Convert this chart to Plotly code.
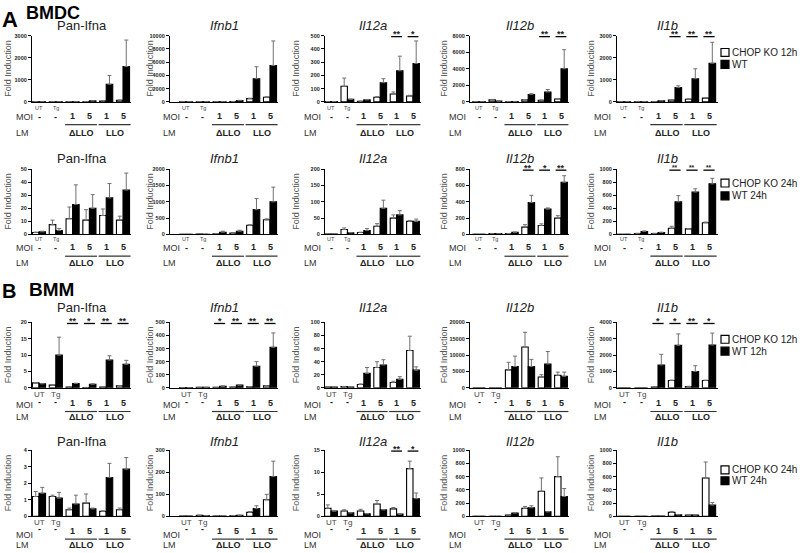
import plotly.graph_objects as go

W, H = 800, 553
FONT = "Liberation Sans, Arial, sans-serif"

# ---------------- categories / labels ----------------
groups = ["UT", "Tg", "ΔLLO MOI 1", "ΔLLO MOI 5", "LLO MOI 1", "LLO MOI 5"]
x_tick_labels = ["UT", "Tg"]
moi_labels = ["-", "-", "1", "5", "1", "5"]
lm_labels = ["ΔLLO", "LLO"]
genes = ["Pan-Ifna", "<i>Ifnb1</i>", "<i>Il12a</i>", "<i>Il12b</i>", "<i>Il1b</i>"]
legend_labels = [["CHOP KO 12h", "WT"], ["CHOP KO 24h", "WT 24h"],
                 ["CHOP KO 12h", "WT 12h"], ["CHOP KO 24h", "WT 24h"]]

# ---------------- A: BMDC 12h ----------------
A12_PanIfna_KO = [2, 5, 3, 10, 40, 70]
A12_PanIfna_KO_err = [0, 0, 0, 3, 10, 15]
A12_PanIfna_WT = [2, 5, 5, 45, 800, 1600]
A12_PanIfna_WT_err = [0, 0, 0, 10, 400, 1200]

A12_Ifnb1_KO = [5, 20, 10, 50, 500, 700]
A12_Ifnb1_KO_err = [0, 10, 0, 20, 60, 80]
A12_Ifnb1_WT = [5, 20, 30, 200, 3500, 5500]
A12_Ifnb1_WT_err = [0, 0, 10, 40, 1800, 3700]

A12_Il12a_KO = [2, 118, 5, 35, 60, 45]
A12_Il12a_KO_err = [0, 62, 0, 5, 15, 5]
A12_Il12a_WT = [2, 20, 15, 145, 235, 290]
A12_Il12a_WT_err = [0, 0, 3, 30, 110, 170]

A12_Il12b_KO = [10, 250, 20, 250, 200, 350]
A12_Il12b_KO_err = [0, 50, 0, 40, 30, 50]
A12_Il12b_WT = [10, 100, 50, 900, 1200, 4000]
A12_Il12b_WT_err = [0, 0, 10, 100, 300, 2300]

A12_Il1b_KO = [2, 5, 10, 80, 120, 170]
A12_Il1b_KO_err = [0, 0, 0, 10, 20, 20]
A12_Il1b_WT = [2, 10, 50, 650, 1050, 1750]
A12_Il1b_WT_err = [0, 0, 5, 80, 450, 950]

# ---------------- A: BMDC 24h ----------------
A24_PanIfna_KO = [1.5, 7.5, 12, 11, 14.5, 11]
A24_PanIfna_KO_err = [0.3, 3.5, 9, 8, 5, 3]
A24_PanIfna_WT = [2, 3, 23, 20, 28, 34]
A24_PanIfna_WT_err = [0.5, 1.5, 15, 10.5, 11, 13]

A24_Ifnb1_KO = [3, 10, 20, 40, 280, 450]
A24_Ifnb1_KO_err = [0, 0, 5, 10, 20, 30]
A24_Ifnb1_WT = [3, 5, 70, 100, 760, 1000]
A24_Ifnb1_WT_err = [0, 0, 30, 30, 340, 450]

A24_Il12a_KO = [1, 15, 6, 25, 50, 40]
A24_Il12a_KO_err = [0, 5, 1, 8, 10, 3]
A24_Il12a_WT = [1, 5, 12, 80, 60, 40]
A24_Il12a_WT_err = [0, 1, 6, 25, 13, 7]

A24_Il12b_KO = [3, 10, 10, 90, 110, 200]
A24_Il12b_KO_err = [0, 0, 2, 30, 20, 30]
A24_Il12b_WT = [3, 10, 25, 390, 310, 640]
A24_Il12b_WT_err = [0, 0, 5, 90, 15, 80]

A24_Il1b_KO = [2, 15, 15, 95, 85, 180]
A24_Il1b_KO_err = [0, 3, 3, 30, 5, 10]
A24_Il1b_WT = [3, 45, 30, 500, 650, 775]
A24_Il1b_WT_err = [0, 10, 5, 95, 50, 85]

# ---------------- B: BMM 12h ----------------
B12_PanIfna_KO = [1.5, 0.8, 0.2, 0.1, 0.2, 0.6]
B12_PanIfna_KO_err = [0.1, 0.1, 0, 0, 0, 0.1]
B12_PanIfna_WT = [1.2, 10, 1.3, 1.1, 8.5, 7.2]
B12_PanIfna_WT_err = [0.1, 5.5, 0.1, 0.1, 1.3, 1.2]

B12_Ifnb1_KO = [2, 3, 3, 5, 8, 15]
B12_Ifnb1_KO_err = [0, 0, 0, 0, 0, 0]
B12_Ifnb1_WT = [2, 3, 12, 20, 165, 310]
B12_Ifnb1_WT_err = [0, 0, 2, 3, 35, 110]

B12_Il12a_KO = [1, 2, 5, 31, 8, 57]
B12_Il12a_KO_err = [0, 0, 1, 9, 2, 22]
B12_Il12a_WT = [1, 1, 22, 35, 13, 27]
B12_Il12a_WT_err = [0, 0, 9, 8, 4, 5]

B12_Il12b_KO = [0, 0, 5500, 12500, 3300, 3800]
B12_Il12b_KO_err = [0, 0, 2300, 4500, 700, 1000]
B12_Il12b_WT = [0, 0, 6500, 6500, 7300, 3500]
B12_Il12b_WT_err = [0, 0, 3200, 2200, 3800, 1300]

B12_Il1b_KO = [0, 0, 50, 450, 80, 450]
B12_Il1b_KO_err = [0, 0, 0, 20, 10, 20]
B12_Il1b_WT = [0, 0, 1400, 2600, 1000, 2620]
B12_Il1b_WT_err = [0, 0, 650, 700, 350, 730]

# ---------------- B: BMM 24h ----------------
B24_PanIfna_KO = [1.2, 1.2, 0.4, 0.8, 0.3, 0.4]
B24_PanIfna_KO_err = [0.3, 0.08, 0.1, 0.55, 0.03, 0.1]
B24_PanIfna_WT = [1.4, 1.1, 0.75, 0.45, 2.35, 2.85]
B24_PanIfna_WT_err = [0.35, 0.35, 0.53, 0.05, 0.85, 0.7]

B24_Ifnb1_KO = [1, 5, 2, 3, 18, 75]
B24_Ifnb1_KO_err = [0, 0, 0, 0, 4, 25]
B24_Ifnb1_WT = [1, 3, 2, 5, 35, 180]
B24_Ifnb1_WT_err = [0, 0, 0, 0, 13, 70]

B24_Il12a_KO = [1.8, 1.2, 1.2, 2.8, 1.7, 10.8]
B24_Il12a_KO_err = [0.8, 0.3, 0.4, 0.8, 0.3, 1.7]
B24_Il12a_WT = [1.2, 0.8, 0.6, 1.5, 0.5, 4.0]
B24_Il12a_WT_err = [0, 0, 0, 0, 0, 1.3]

B24_Il12b_KO = [2, 2, 20, 120, 380, 600]
B24_Il12b_KO_err = [0, 0, 0, 30, 200, 300]
B24_Il12b_WT = [2, 2, 50, 130, 70, 300]
B24_Il12b_WT_err = [0, 0, 5, 30, 0, 120]

B24_Il1b_KO = [2, 2, 5, 60, 20, 580]
B24_Il1b_KO_err = [0, 0, 0, 15, 0, 240]
B24_Il1b_WT = [2, 2, 5, 25, 20, 170]
B24_Il1b_WT_err = [0, 0, 0, 0, 0, 40]

# axis maxima and tick steps
A12_ymax = [3000, 10000, 500, 8000, 3000]
A12_dtick = [1000, 2000, 100, 2000, 1000]
A24_ymax = [50, 2000, 200, 800, 1000]
A24_dtick = [10, 500, 50, 200, 200]
B12_ymax = [20, 500, 100, 20000, 4000]
B12_dtick = [5, 100, 20, 5000, 1000]
B24_ymax = [4, 300, 15, 1000, 1000]
B24_dtick = [1, 100, 5, 200, 200]

# significance marks: (group index, label) per panel
A12_sig = [[], [], [(4, "**"), (5, "*")], [(4, "**"), (5, "**")], [(3, "**"), (4, "**"), (5, "**")]]
A24_sig = [[], [], [], [(3, "**"), (4, "*"), (5, "**")], [(3, "**"), (4, "**"), (5, "**")]]
B12_sig = [[(2, "**"), (3, "*"), (4, "**"), (5, "**")], [(2, "*"), (3, "**"), (4, "**"), (5, "**")], [], [],
           [(2, "*"), (3, "*"), (4, "**"), (5, "*")]]
B24_sig = [[], [], [(4, "**"), (5, "*")], [], []]

# ---------------- assemble tables ----------------
rows_data = [
    [(A12_PanIfna_KO, A12_PanIfna_KO_err, A12_PanIfna_WT, A12_PanIfna_WT_err),
     (A12_Ifnb1_KO, A12_Ifnb1_KO_err, A12_Ifnb1_WT, A12_Ifnb1_WT_err),
     (A12_Il12a_KO, A12_Il12a_KO_err, A12_Il12a_WT, A12_Il12a_WT_err),
     (A12_Il12b_KO, A12_Il12b_KO_err, A12_Il12b_WT, A12_Il12b_WT_err),
     (A12_Il1b_KO, A12_Il1b_KO_err, A12_Il1b_WT, A12_Il1b_WT_err)],
    [(A24_PanIfna_KO, A24_PanIfna_KO_err, A24_PanIfna_WT, A24_PanIfna_WT_err),
     (A24_Ifnb1_KO, A24_Ifnb1_KO_err, A24_Ifnb1_WT, A24_Ifnb1_WT_err),
     (A24_Il12a_KO, A24_Il12a_KO_err, A24_Il12a_WT, A24_Il12a_WT_err),
     (A24_Il12b_KO, A24_Il12b_KO_err, A24_Il12b_WT, A24_Il12b_WT_err),
     (A24_Il1b_KO, A24_Il1b_KO_err, A24_Il1b_WT, A24_Il1b_WT_err)],
    [(B12_PanIfna_KO, B12_PanIfna_KO_err, B12_PanIfna_WT, B12_PanIfna_WT_err),
     (B12_Ifnb1_KO, B12_Ifnb1_KO_err, B12_Ifnb1_WT, B12_Ifnb1_WT_err),
     (B12_Il12a_KO, B12_Il12a_KO_err, B12_Il12a_WT, B12_Il12a_WT_err),
     (B12_Il12b_KO, B12_Il12b_KO_err, B12_Il12b_WT, B12_Il12b_WT_err),
     (B12_Il1b_KO, B12_Il1b_KO_err, B12_Il1b_WT, B12_Il1b_WT_err)],
    [(B24_PanIfna_KO, B24_PanIfna_KO_err, B24_PanIfna_WT, B24_PanIfna_WT_err),
     (B24_Ifnb1_KO, B24_Ifnb1_KO_err, B24_Ifnb1_WT, B24_Ifnb1_WT_err),
     (B24_Il12a_KO, B24_Il12a_KO_err, B24_Il12a_WT, B24_Il12a_WT_err),
     (B24_Il12b_KO, B24_Il12b_KO_err, B24_Il12b_WT, B24_Il12b_WT_err),
     (B24_Il1b_KO, B24_Il1b_KO_err, B24_Il1b_WT, B24_Il1b_WT_err)],
]
rows_ymax = [A12_ymax, A24_ymax, B12_ymax, B24_ymax]
rows_dtick = [A12_dtick, A24_dtick, B12_dtick, B24_dtick]
rows_sig = [A12_sig, A24_sig, B12_sig, B24_sig]

# ---------------- layout geometry (pixels) ----------------
row_top = [33, 168, 323, 452]
row_base = [100, 234, 389, 519]
title_y = [23, 157, 308, 443]
ut_y = [106, 239, 396, 525]
ut_size = [5.5, 5.5, 8, 8]
dash_y = [115, 248, 403, 532]
moi_y = [115, 248, 406, 538]
num_y = [114, 247, 404, 534]
line_y = [123, 256, 413, 542]
lm_y = [131, 263, 419, 548]
legend_y = [[50, 62], [182, 195], [340, 352], [472, 483]]

col_axis = [32, 170, 325, 470, 617]
col_c0 = [39, 186, 331, 479, 624]
col_pitch = [16.8, 16.8, 16.4, 16.4, 17.0]
col_moi_left = [15, 162, 303, 448, 593]
col_ytitle_x = [8, 150, 296, 444, 591]

ERR = "#707070"
TXT = "#222222"

fig = go.Figure()
layout = {}
annotations = []
shapes = []


def px(x):
    return x / W


def py(y):
    return 1 - y / H


def ann(x, y, text, size, bold=False, color=TXT, xanchor="center", yanchor="middle", angle=0):
    annotations.append(dict(xref="paper", yref="paper", x=px(x), y=py(y), text=text,
                            showarrow=False, xanchor=xanchor, yanchor=yanchor, textangle=angle,
                            borderpad=0,
                            font=dict(size=size, family=FONT, color=color,
                                      weight="bold" if bold else "normal")))


def hline(x0, x1, y, width=1.2, color="black"):
    shapes.append(dict(type="line", xref="paper", yref="paper", x0=px(x0), x1=px(x1),
                       y0=py(y), y1=py(y), line=dict(color=color, width=width)))


for r in range(4):
    for c in range(5):
        k = r * 5 + c + 1
        xa = "x" if k == 1 else f"x{k}"
        ya = "y" if k == 1 else f"y{k}"
        ko, ko_err, wt, wt_err = rows_data[r][c]
        xs = list(range(len(groups)))
        fig.add_trace(go.Bar(
            x=xs, y=ko, name=legend_labels[r][0], xaxis=xa, yaxis=ya, showlegend=False,
            offsetgroup="ko", hovertext=groups,
            marker=dict(color="white", line=dict(color="black", width=1.1)),
            error_y=dict(type="data", symmetric=False, array=ko_err, arrayminus=[0] * 6,
                         color=ERR, thickness=1, width=2)))
        fig.add_trace(go.Bar(
            x=xs, y=wt, name=legend_labels[r][1], xaxis=xa, yaxis=ya, showlegend=False,
            offsetgroup="wt", hovertext=groups,
            marker=dict(color="black", line=dict(color="black", width=1.1)),
            error_y=dict(type="data", symmetric=False, array=wt_err, arrayminus=[0] * 6,
                         color=ERR, thickness=1, width=2)))

        ax0 = col_axis[c]
        c0 = col_c0[c]
        pt = col_pitch[c]
        x1 = c0 + 5.5 * pt
        key = "" if k == 1 else str(k)
        layout["xaxis" + key] = dict(
            domain=[px(ax0), px(x1)], range=[(ax0 - c0) / pt, 5.5], anchor=ya,
            showline=True, linecolor="black", linewidth=1.2, ticks="",
            showticklabels=False, showgrid=False, zeroline=False, fixedrange=True)
        layout["yaxis" + key] = dict(
            domain=[py(row_base[r]), py(row_top[r])], range=[0, rows_ymax[r][c]],
            dtick=rows_dtick[r][c], tick0=0, anchor=xa, showline=True, linecolor="black",
            linewidth=1.2, ticks="outside", ticklen=3, tickwidth=1, tickcolor="black",
            tickformat="d", showgrid=False, zeroline=False, fixedrange=True,
            tickfont=dict(size=5.5, family=FONT, color=TXT, weight="bold"))

        def gx(i):
            return c0 + i * pt

        # title & y title
        ann((ax0 + x1) / 2, title_y[r], genes[c], 13)
        ann(col_ytitle_x[c], (row_top[r] + row_base[r]) / 2, "Fold Induction", 9,
            color="#555555", angle=-90)
        # UT / Tg labels
        for i, t in enumerate(x_tick_labels):
            ann(gx(i), ut_y[r], t, ut_size[r], color="#444444")
        # MOI row
        ann(col_moi_left[c], moi_y[r], "MOI", 9, color="#333333", xanchor="left")
        for i, t in enumerate(moi_labels):
            if t == "-":
                ann(gx(i), dash_y[r], t, 9, bold=True)
            else:
                ann(gx(i), num_y[r], t, 9, bold=True)
        # LM row
        ann(col_moi_left[c], lm_y[r], "LM", 9, color="#333333", xanchor="left")
        for j, t in enumerate(lm_labels):
            a, b = 2 + 2 * j, 3 + 2 * j
            hline(gx(a) - 0.45 * pt, gx(b) + 0.45 * pt, line_y[r], width=1.2, color="#333333")
            ann((gx(a) + gx(b)) / 2, lm_y[r], t, 9, bold=True)
        # significance
        for i, lab in rows_sig[r][c]:
            yl = row_top[r] + 1
            hline(gx(i) - 0.33 * pt, gx(i) + 0.33 * pt, yl, width=1.3)
            size = 6.5 if (r == 1 and c == 4) else 9
            ann(gx(i), yl - 2.5, lab, size, bold=True)

    # legend for the row
    for j, lab in enumerate(legend_labels[r]):
        yc = legend_y[r][j]
        shapes.append(dict(type="rect", xref="paper", yref="paper",
                           x0=px(721), x1=px(729), y0=py(yc + 4), y1=py(yc - 4),
                           fillcolor="white" if j == 0 else "black",
                           line=dict(color="black", width=1.2)))
        ann(731, yc, lab, 10, xanchor="left")

# panel labels
ann(1, 17, "A", 22, bold=True, color="black", xanchor="left")
ann(25, 10, "BMDC", 18, bold=True, color="black", xanchor="left")
ann(1, 291, "B", 20, bold=True, color="black", xanchor="left")
ann(28, 290, "BMM", 19, bold=True, color="black", xanchor="left")

fig.update_layout(
    width=W, height=H, margin=dict(l=0, r=0, t=0, b=0),
    paper_bgcolor="white", plot_bgcolor="white",
    barmode="group", bargap=0.22, bargroupgap=0.0,
    showlegend=False, font=dict(family=FONT),
    annotations=annotations, shapes=shapes, **layout)

fig.write_html("out.html", config={"displayModeBar": False},
               post_script="document.body.style.margin='0';document.body.style.padding='0';")
